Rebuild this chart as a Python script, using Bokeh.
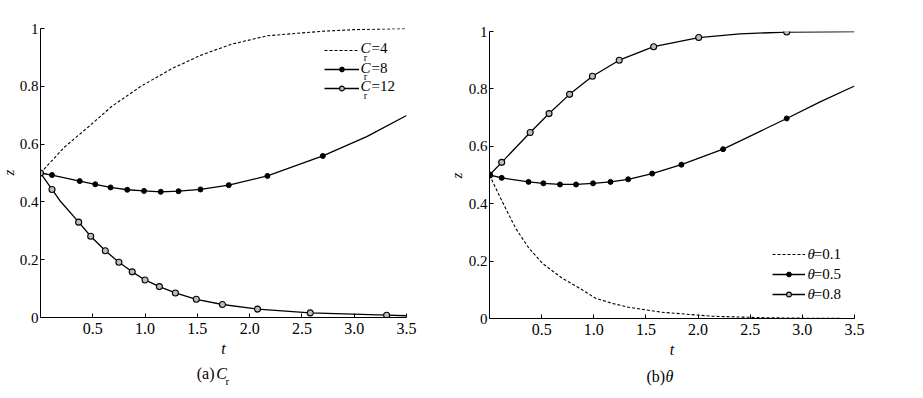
import math
from bokeh.plotting import figure
from bokeh.models import Range1d, FixedTicker, Label, Legend, LegendItem, PrintfTickFormatter
from bokeh.layouts import row, column
from bokeh.embed import file_html
from bokeh.resources import INLINE

FONT = "Liberation Serif"

x_ticks = [0.5, 1.0, 1.5, 2.0, 2.5, 3.0, 3.5]
y_ticks = [0, 0.2, 0.4, 0.6, 0.8, 1.0]
y_label_overrides = {0: "0", 1: "1"}

# ---- panel (a): C_r ----
cr4_t = [0, 0.23, 0.46, 0.68, 0.96, 1.25, 1.53, 1.82, 2.17, 2.68, 3.0, 3.5]
cr4_z = [0.5, 0.59, 0.66, 0.73, 0.80, 0.86, 0.907, 0.945, 0.975, 0.99, 0.996, 1.0]

cr8_mt = [0, 0.11, 0.375, 0.524, 0.67, 0.83, 0.99, 1.15, 1.32, 1.53, 1.80, 2.17, 2.70]
cr8_mz = [0.5, 0.493, 0.472, 0.461, 0.450, 0.442, 0.438, 0.435, 0.437, 0.443, 0.458, 0.490, 0.559]
cr8_t = cr8_mt + [3.12, 3.5]
cr8_z = cr8_mz + [0.626, 0.699]

cr12_mt = [0, 0.11, 0.365, 0.48, 0.62, 0.75, 0.877, 1.0, 1.137, 1.29, 1.49, 1.74, 2.075, 2.58, 3.31]
cr12_mz = [0.5, 0.443, 0.330, 0.281, 0.231, 0.191, 0.158, 0.130, 0.107, 0.085, 0.063, 0.045, 0.029, 0.016, 0.008]
cr12_t = [0, 0.11, 0.184, 0.365, 0.48, 0.62, 0.75, 0.877, 1.0, 1.137, 1.29, 1.49, 1.74, 2.075, 2.58, 3.31, 3.5]
cr12_z = [0.5, 0.443, 0.405, 0.330, 0.281, 0.231, 0.191, 0.158, 0.130, 0.107, 0.085, 0.063, 0.045, 0.029, 0.016, 0.008, 0.006]

# ---- panel (b): theta ----
th1_t = [0, 0.11, 0.253, 0.38, 0.508, 0.698, 0.889, 1.015, 1.174, 1.333, 1.65, 2.127, 2.6, 3.0, 3.5]
th1_z = [0.5, 0.416, 0.313, 0.244, 0.192, 0.140, 0.100, 0.071, 0.053, 0.039, 0.022, 0.008, 0.003, 0.001, 0.0]

th5_mt = [0, 0.117, 0.374, 0.517, 0.676, 0.83, 0.993, 1.16, 1.33, 1.56, 1.84, 2.24, 2.85]
th5_mz = [0.5, 0.490, 0.476, 0.471, 0.467, 0.467, 0.471, 0.476, 0.485, 0.505, 0.536, 0.590, 0.697]
th5_t = th5_mt + [3.17, 3.5]
th5_z = th5_mz + [0.755, 0.810]

th8_mt = [0, 0.117, 0.39, 0.571, 0.768, 0.987, 1.244, 1.574, 2.006, 2.85]
th8_mz = [0.5, 0.544, 0.648, 0.714, 0.781, 0.844, 0.900, 0.947, 0.979, 0.998]
th8_t = [0, 0.117, 0.39, 0.571, 0.768, 0.987, 1.244, 1.574, 2.006, 2.4, 2.85, 3.5]
th8_z = [0.5, 0.544, 0.648, 0.714, 0.781, 0.844, 0.900, 0.947, 0.979, 0.992, 0.998, 1.0]


def make_fig(width, height, bl, br, bt, bb):
    p = figure(width=width, height=height, x_range=Range1d(0, 3.5), y_range=Range1d(0, 1),
               output_backend="svg", toolbar_location=None,
               min_border_left=bl, min_border_right=br, min_border_top=bt, min_border_bottom=bb)
    p.outline_line_color = None
    p.grid.visible = False
    p.background_fill_color = "white"
    p.border_fill_color = "white"
    for ax in (p.xaxis[0], p.yaxis[0]):
        ax.axis_line_color = "black"
        ax.axis_line_width = 1
        ax.major_tick_in = 4
        ax.major_tick_out = 0
        ax.major_tick_line_color = "black"
        ax.minor_tick_line_color = None
        ax.major_label_text_font = FONT
        ax.major_label_text_color = "black"
    xa, ya = p.xaxis[0], p.yaxis[0]
    xa.ticker = FixedTicker(ticks=x_ticks)
    xa.formatter = PrintfTickFormatter(format="%.1f")
    ya.ticker = FixedTicker(ticks=y_ticks)
    ya.formatter = PrintfTickFormatter(format="%.1f")
    ya.major_label_overrides = y_label_overrides
    xa.major_label_text_font_size = "16px"
    ya.major_label_text_font_size = "15px"
    xa.major_label_standoff = 5
    ya.major_label_standoff = 2
    xa.axis_label = "t"
    xa.axis_label_text_font = FONT
    xa.axis_label_text_font_style = "italic"
    xa.axis_label_text_color = "black"
    xa.axis_label_text_font_size = "16px"
    xa.axis_label_standoff = 3
    return p


def lbl(p, x, y, text, size="15px", style="normal", align="left", angle=0.0):
    p.add_layout(Label(x=x, y=y, text=text, text_font=FONT, text_font_size=size,
                       text_font_style=style, text_align=align, text_baseline="middle",
                       text_color="black", angle=angle))


def text_fig(width, height):
    c = figure(width=width, height=height, x_range=Range1d(0, width), y_range=Range1d(0, height),
               output_backend="svg", toolbar_location=None, min_border=0,
               x_axis_location=None, y_axis_location=None)
    c.outline_line_color = None
    c.grid.visible = False
    return c


def open_marker(p, t, z):
    return p.scatter(t, z, marker="circle", size=6, line_color="black", line_width=1.1,
                     fill_color="#bdbdbd")


def dot_marker(p, t, z):
    return p.scatter(t, z, marker="circle", size=5, line_color="black", fill_color="black")


def make_legend(items, loc, gw, rh):
    return Legend(items=items, location=loc, glyph_width=gw, glyph_height=12,
                  label_height=rh, label_width=0, label_standoff=0, spacing=0,
                  padding=0, margin=0, border_line_color=None,
                  background_fill_alpha=0, label_text_font_size="1px")


# ---------- figure (a) ----------
z1 = text_fig(16, 390)
lbl(z1, 8, 218, "z", size="15px", style="italic", align="center", angle=math.pi / 2)

p1 = make_fig(431, 360, 23, 41, 28, 43)
l4 = p1.line(cr4_t, cr4_z, line_color="black", line_width=1.1, line_dash="3 2")
l8 = p1.line(cr8_t, cr8_z, line_color="black", line_width=1.3)
m8 = dot_marker(p1, cr8_mt, cr8_mz)
l12 = p1.line(cr12_t, cr12_z, line_color="black", line_width=1.3)
m12 = open_marker(p1, cr12_mt, cr12_mz)

p1.add_layout(make_legend([LegendItem(label=" ", renderers=[l4]),
                           LegendItem(label=" ", renderers=[l8, m8]),
                           LegendItem(label=" ", renderers=[l12, m12])],
                          (284, 220), 35, 19))

for zc, val in ((0.931, "=4"), (0.865, "=8"), (0.80, "=12")):
    lbl(p1, 3.06, zc, "C", style="italic")
    lbl(p1, 3.09, zc - 0.031, "r", size="10px")
    lbl(p1, 3.165, zc, val)

c1 = text_fig(431, 30)
lbl(c1, 184, 17, "(a)", size="16px")
lbl(c1, 207, 17, "C", size="16px", style="italic")
lbl(c1, 218, 10, "r", size="11px")

# ---------- figure (b) ----------
z2 = text_fig(18, 390)
lbl(z2, 9, 215, "z", size="15px", style="italic", align="center", angle=math.pi / 2)

p2 = make_fig(442, 360, 22, 53, 31, 39)
l01 = p2.line(th1_t, th1_z, line_color="black", line_width=1.1, line_dash="3 2")
l05 = p2.line(th5_t, th5_z, line_color="black", line_width=1.3)
l08 = p2.line(th8_t, th8_z, line_color="black", line_width=1.3)
m08 = open_marker(p2, th8_mt, th8_mz)
m05 = dot_marker(p2, th5_mt, th5_mz)

p2.add_layout(make_legend([LegendItem(label=" ", renderers=[l01]),
                           LegendItem(label=" ", renderers=[l05, m05]),
                           LegendItem(label=" ", renderers=[l08, m08])],
                          (283, 14), 33, 20))

for zc, val in ((0.223, "=0.1"), (0.154, "=0.5"), (0.085, "=0.8")):
    lbl(p2, 3.05, zc, "θ", style="italic")
    lbl(p2, 3.11, zc, val)

c2 = text_fig(442, 30)
lbl(c2, 190, 14, "(b)", size="16px")
lbl(c2, 213, 14, "θ", size="16px", style="italic")

layout = row(z1, column(p1, c1), z2, column(p2, c2))
open("out.html", "w").write(file_html(layout, INLINE))
